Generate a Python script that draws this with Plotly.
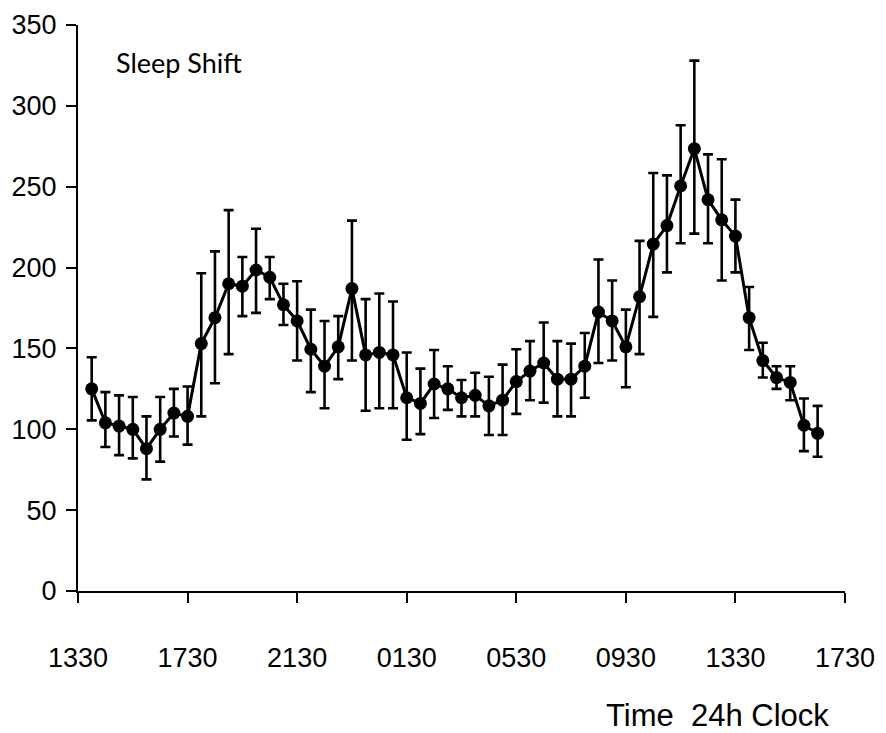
import plotly.graph_objects as go

# Half-hourly samples starting 1400 (hours after 13:30)
step_hours = 0.5
n_points = 54
hours_after_1330 = [step_hours * (i + 1) for i in range(n_points)]

mean_values = [125, 104, 102, 100, 88, 100, 110, 108, 153, 169,
               190, 188.5, 198.5, 194, 177, 167, 149.5, 139, 151, 187,
               146, 147.5, 146, 119.5, 116, 128, 125, 119.5, 121, 114.5,
               118, 129.5, 136, 141, 131, 131, 139, 172.5, 167, 151,
               182, 214.5, 226, 250.5, 273.5, 242, 229.5, 219.5, 169, 142.5,
               132, 129, 102.5, 97.5]

upper_values = [144.5, 123, 121, 120, 108, 120, 125, 126.5, 196.5, 210,
                235.5, 206.5, 224, 206.5, 190, 191.5, 174, 167, 170, 229,
                180.5, 184, 179, 147.5, 137.5, 149, 139, 130.5, 135, 132.5,
                140, 149.5, 154.5, 166, 154.5, 153, 159.5, 205, 192, 174,
                216.5, 258.5, 257, 288, 328, 270, 267, 242, 188, 153.5,
                139, 139, 119, 114.5]

lower_values = [105.5, 89, 84, 82, 69, 80, 95.5, 90.5, 108, 128.5,
                146.5, 170, 172, 180.5, 164.5, 142.5, 123, 113, 131, 142.5,
                111.5, 113, 113, 93.5, 97, 107, 112, 108, 108, 96.5,
                96.5, 109.5, 118, 116.5, 108, 108, 119.5, 141, 142.5, 126,
                146.5, 169.5, 197, 215, 221, 215, 192, 197, 149, 132,
                125, 118, 86.5, 83]

tick_hours = [0, 4, 8, 12, 16, 20, 24, 28]
tick_labels = ["1330", "1730", "2130", "0130", "0530", "0930", "1330", "1730"]
y_ticks = [0, 50, 100, 150, 200, 250, 300, 350]

err_plus = [u - m for u, m in zip(upper_values, mean_values)]
err_minus = [m - l for m, l in zip(mean_values, lower_values)]

fig = go.Figure()
fig.add_trace(go.Scatter(
    x=hours_after_1330, y=mean_values,
    mode="lines+markers",
    line=dict(color="black", width=3),
    marker=dict(color="black", size=13),
    error_y=dict(type="data", symmetric=False, array=err_plus, arrayminus=err_minus,
                 color="black", thickness=2.6, width=5),
    cliponaxis=False,
    showlegend=False,
))

fig.update_layout(
    width=886, height=733,
    margin=dict(l=78, r=41, t=25, b=142),
    paper_bgcolor="white", plot_bgcolor="white",
    font=dict(family="Liberation Sans, Arial, sans-serif", color="black"),
    xaxis=dict(range=[0, 28], tickvals=tick_hours, ticktext=tick_labels,
               showline=True, linecolor="black", linewidth=2,
               ticks="outside", ticklen=10, tickwidth=2, tickcolor="black",
               showgrid=False, zeroline=False, automargin=False,
               tickfont=dict(size=27), ticklabelstandoff=32),
    yaxis=dict(range=[0, 350], tickvals=y_ticks,
               showline=True, linecolor="black", linewidth=2,
               ticks="outside", ticklen=10, tickwidth=2, tickcolor="black",
               showgrid=False, zeroline=False, automargin=False,
               tickfont=dict(size=27), ticklabelstandoff=4),
    annotations=[
        dict(text="Sleep Shift", xref="paper", yref="paper",
             x=(114 - 78) / 767, y=(591 - 62) / 566,
             xanchor="left", yanchor="middle", showarrow=False,
             font=dict(family="Lato, sans-serif", size=27, color="black")),
        dict(text="Time\u00a0 24h Clock", xref="paper", yref="paper",
             x=(717 - 78) / 767, y=-(715 - 591) / 566,
             xanchor="center", yanchor="middle", showarrow=False,
             font=dict(size=31, color="black")),
    ],
)

fig.write_html("out.html")
